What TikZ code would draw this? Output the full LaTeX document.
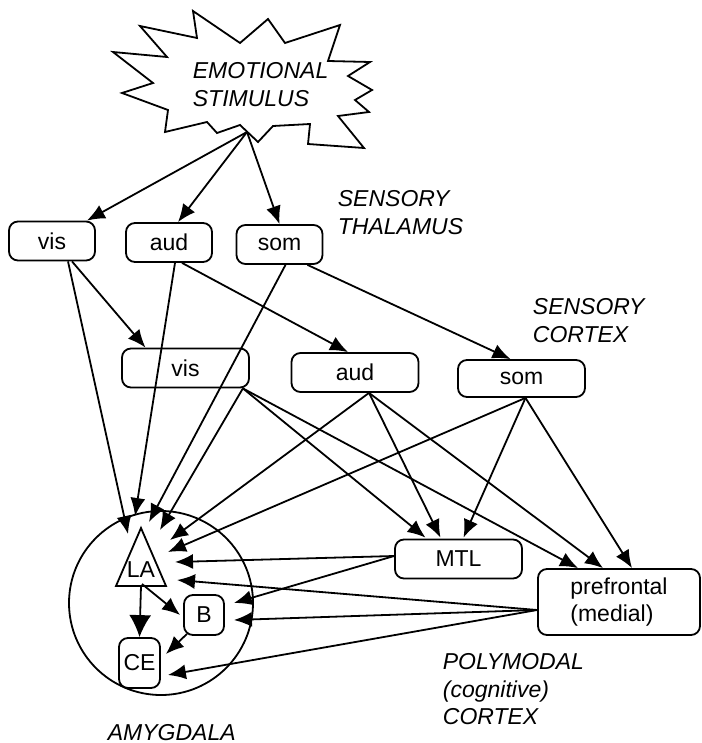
\documentclass[tikz,border=0pt]{standalone}
\usepackage{fontspec}
\setmainfont{Liberation Sans}
\usetikzlibrary{arrows.meta, positioning}
\newcommand\figfont{\fontsize{11.5}{13.75}\selectfont}
\tikzset{
>={Latex[length=9pt,width=7.5pt]}, % filled heads
every picture/.style={line width=0.9pt},
box/.style={draw, rounded corners=4.5pt, inner sep=0pt, minimum height=19.5pt}, % rounded boxes
thal/.style={box, minimum width=43pt}, % thalamus boxes
cort/.style={box, minimum width=63.5pt}, % cortex boxes
area/.style={font=\figfont\itshape, align=left, anchor=north west, inner sep=0pt}, % region names
}

\begin{document}
\begin{tikzpicture}[x=0.5pt, y=-0.5pt, font=\figfont]
  \useasboundingbox (0,0) rectangle (701,743);

  % stimulus burst
  \draw (193,11) -- (240,43) -- (268,19) -- (285,43) -- (340,25) -- (328,61)
    -- (370,62) -- (348,76) -- (372,90) -- (355,100) -- (369,112) -- (338,116)
    -- (364,148) -- (308,144) -- (310,124) -- (273,126) -- (258,142) -- (240,125)
    -- (217,133) -- (207,122) -- (165,132) -- (168,110) -- (122,93) -- (153,83)
    -- (113,52) -- (167,57) -- (140,26) -- (197,38) -- cycle;
  \node[area] (stim) at (192,62) {EMOTIONAL\\STIMULUS};
  \coordinate (burst) at (247,132);

  \node[thal] (visT) at (52,241) {vis};
  \node[thal] (audT) at (169,242.5) {aud};
  \node[thal] (somT) at (279.5,244.5) {som};
  \node[area] (thal) at (337,190) {SENSORY\\THALAMUS};

  \node[cort] (visC) at (185.5,368) {vis};
  \node[cort] (audC) at (355,372.5) {aud};
  \node[cort, minimum height=18.5pt] (somC) at (521.5,378.5) {som};
  \node[area] (sens) at (532,298) {SENSORY\\CORTEX};

  \node[cort] (mtl) at (458.5,559) {MTL};
  \node[box, minimum width=81pt, minimum height=33pt, align=left] (pfc) at (619,602) {prefrontal\\(medial)};
  \node[area] (poly) at (442,653) {POLYMODAL\\(cognitive)\\CORTEX};

  % amygdala
  \node[draw, circle, minimum size=92pt, inner sep=0pt] (amy) at (161,603) {};
  \draw (141,528) -- (166,586) -- (116,586) -- cycle;
  \node (LA) at (141,570) {LA};
  \coordinate (LAbase) at (141,586);
  \node[box, minimum size=20pt] (B) at (204,615) {B};
  \node[box, minimum width=20.5pt, minimum height=25pt] (CE) at (139.5,663) {CE};
  \node[area] (amyg) at (107,724) {AMYGDALA};

  % arrow tips fanned round LA
  \coordinate (la1) at (128,534);
  \coordinate (la2) at (135,516);
  \coordinate (la3) at (149,522);
  \coordinate (la4) at (160,530);
  \coordinate (la5) at (170,540);
  \coordinate (la6) at (168,552);
  \coordinate (la7) at (175,562);
  \coordinate (la8) at (177,580);

  \path[->]
  (burst)
  edge ([shift={(-9,0)}]visT.north east)
  edge ([shift={(9,0)}]audT.north)
  edge (somT.north)

  ([shift={(20,0)}]visT.south) edge ([shift={(-40,0)}]visC.north)
  ([shift={(16,0)}]visT.south) edge (la1)
  ([shift={(13,0)}]audT.south) edge ([shift={(-7,0)}]audC.north)
  ([shift={(6,0)}]audT.south) edge (la2)
  ([shift={(28,0)}]somT.south) edge ([shift={(-11,0)}]somC.north)
  ([shift={(6,0)}]somT.south) edge (la3)

  ([shift={(-7,0)}]visC.south east)
  edge (la4)
  edge ([shift={(-33,-1)}]mtl.north)
  edge ([shift={(-41,0)}]pfc.north)

  ([shift={(14,0)}]audC.south)
  edge (la5)
  edge ([shift={(-18,-1)}]mtl.north)
  edge ([shift={(-16,0)}]pfc.north)

  ([shift={(4,0)}]somC.south)
  edge (la6)
  edge ([shift={(5,-1)}]mtl.north)
  edge ([shift={(13,0)}]pfc.north)

  ([shift={(0,-3)}]mtl.west)
  edge (la7)
  edge ([shift={(9,-12)}]B.east)

  ([shift={(0,8)}]pfc.west)
  edge (la8)
  edge ([shift={(9,5)}]B.east)
  edge ([shift={(7,12)}]CE.east)

  ([shift={(1,-2)}]LAbase) edge ([shift={(-3,0)}]B.west)
  ([shift={(-17,-2)}]B.south) edge ([shift={(5,-9)}]CE.east);

  \draw[-{Latex[length=11pt,width=11pt]}] (LAbase) -- (CE.north);
\end{tikzpicture}
\end{document}
